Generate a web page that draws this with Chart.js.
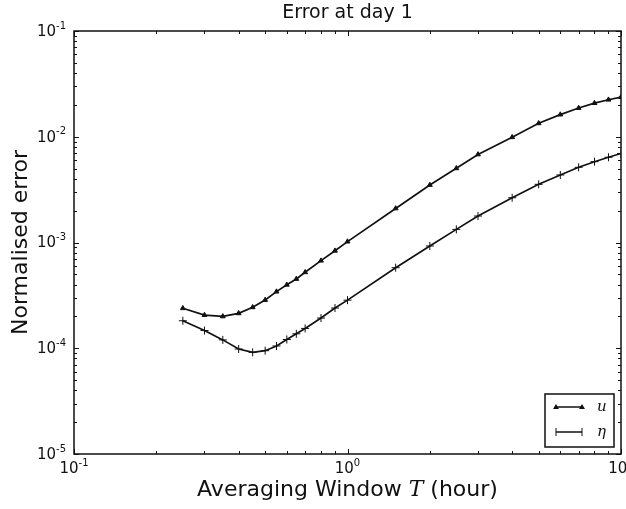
<!DOCTYPE html>
<html>
<head>
<meta charset="utf-8">
<script src="https://cdn.jsdelivr.net/npm/chart.js@4/dist/chart.umd.min.js"></script>
<style>
  html, body { margin: 0; padding: 0; background: #fff; }
  #wrap { width: 626px; height: 509px; }
</style>
</head>
<body>
<div id="wrap"><canvas id="errChart" width="626" height="509"></canvas></div>
<script>
// averaging window T (hours)
const windowHours = [0.25, 0.3, 0.35, 0.4, 0.45, 0.5, 0.55, 0.6, 0.65, 0.7, 0.8, 0.9, 1.0,
    1.5, 2, 2.5, 3, 4, 5, 6, 7, 8, 9, 10];
// normalised error of u
const errU = [2.39e-4, 2.06e-4, 2.00e-4, 2.14e-4, 2.44e-4, 2.86e-4, 3.43e-4, 3.98e-4, 4.52e-4,
    5.23e-4, 6.73e-4, 8.36e-4, 1.02e-3, 2.1e-3, 3.5e-3, 5.03e-3, 6.8e-3, 9.9e-3, 1.34e-2,
    1.62e-2, 1.87e-2, 2.08e-2, 2.24e-2, 2.37e-2];
// normalised error of eta
const errEta = [1.82e-4, 1.47e-4, 1.20e-4, 9.84e-5, 9.15e-5, 9.48e-5, 1.05e-4, 1.21e-4, 1.37e-4,
    1.54e-4, 1.93e-4, 2.40e-4, 2.85e-4, 5.78e-4, 9.27e-4, 1.33e-3, 1.78e-3, 2.65e-3, 3.55e-3,
    4.35e-3, 5.14e-3, 5.81e-3, 6.4e-3, 6.95e-3];
const seriesNames = ['u', 'η'];

const xMajor = [0.1, 1, 10];
const xMajorExp = ['-1', '0', '1'];
const yMajor = [1e-5, 1e-4, 1e-3, 1e-2, 1e-1];
const yMajorExp = ['-5', '-4', '-3', '-2', '-1'];

const INK = '#111';
const SANS = '"DejaVu Sans", sans-serif';

function toPoints(xs, ys) {
    return xs.map((x, i) => ({ x: x, y: ys[i] }));
}

// minor tick values between decades
function minorTicks(min, max) {
    const out = [];
    for (let d = min; d < max; d *= 10) {
        for (let k = 2; k <= 9; k++) out.push(d * k);
    }
    return out;
}

function drawPow(ctx, exp, x, y, align) {
    // "10" with a raised exponent
    ctx.font = '15px ' + SANS;
    const wBase = ctx.measureText('10').width;
    ctx.font = '10px ' + SANS;
    const wExp = ctx.measureText(exp).width;
    const total = wBase + wExp;
    let start = x;
    if (align === 'center') start = x - total / 2;
    if (align === 'right') start = x - total;
    ctx.textAlign = 'left';
    ctx.textBaseline = 'middle';
    ctx.font = '15px ' + SANS;
    ctx.fillText('10', start, y);
    ctx.font = '10px ' + SANS;
    ctx.fillText(exp, start + wBase, y - 6);
}

const decorPlugin = {
    id: 'decor',
    afterDraw(chart) {
        const ctx = chart.ctx;
        const a = chart.chartArea;
        const xs = chart.scales.x;
        const ys = chart.scales.y;
        ctx.save();
        ctx.strokeStyle = INK;
        ctx.fillStyle = INK;

        // ticks pointing inward on all four sides
        ctx.lineWidth = 1;
        const tick = (len, vals, scale, horiz) => {
            vals.forEach(v => {
                const p = Math.round(scale.getPixelForValue(v)) + 0.5;
                ctx.beginPath();
                if (horiz) {
                    ctx.moveTo(p, a.bottom); ctx.lineTo(p, a.bottom - len);
                    ctx.moveTo(p, a.top); ctx.lineTo(p, a.top + len);
                } else {
                    ctx.moveTo(a.left, p); ctx.lineTo(a.left + len, p);
                    ctx.moveTo(a.right, p); ctx.lineTo(a.right - len, p);
                }
                ctx.stroke();
            });
        };
        tick(3, minorTicks(0.1, 10), xs, true);
        tick(5, xMajor, xs, true);
        tick(3, minorTicks(1e-5, 1e-1), ys, false);
        tick(5, yMajor, ys, false);

        // frame
        ctx.lineWidth = 1.5;
        ctx.strokeRect(a.left, a.top, a.right - a.left, a.bottom - a.top);

        // tick labels
        xMajor.forEach((v, i) => drawPow(ctx, xMajorExp[i], xs.getPixelForValue(v), a.bottom + 15, 'center'));
        yMajor.forEach((v, i) => drawPow(ctx, yMajorExp[i], a.left - 8, ys.getPixelForValue(v) + 1, 'right'));

        // title
        const cx = (a.left + a.right) / 2;
        ctx.textAlign = 'center';
        ctx.textBaseline = 'middle';
        ctx.font = '19px ' + SANS;
        ctx.fillText('Error at day 1', cx, 13);

        // y axis title
        ctx.save();
        ctx.translate(21, (a.top + a.bottom) / 2);
        ctx.rotate(-Math.PI / 2);
        ctx.font = '22px ' + SANS;
        ctx.fillText('Normalised error', 0, 0);
        ctx.restore();

        // x axis title with italic T
        const parts = [
            { t: 'Averaging Window ', f: '22px ' + SANS },
            { t: 'T', f: 'italic 22px "DejaVu Serif", serif' },
            { t: ' (hour)', f: '22px ' + SANS }
        ];
        let tw = 0;
        parts.forEach(p => { ctx.font = p.f; p.w = ctx.measureText(p.t).width; tw += p.w; });
        let px = cx - tw / 2;
        ctx.textAlign = 'left';
        parts.forEach(p => { ctx.font = p.f; ctx.fillText(p.t, px, 490); px += p.w; });

        // legend box
        const lx = 545, ly = 394, lw = 69, lh = 53;
        ctx.fillStyle = '#fff';
        ctx.fillRect(lx, ly, lw, lh);
        ctx.lineWidth = 1.5;
        ctx.strokeRect(lx, ly, lw, lh);
        ctx.fillStyle = INK;
        const rows = [ly + 13, ly + 38];
        rows.forEach((ry, i) => {
            ctx.lineWidth = 1.5;
            ctx.beginPath();
            ctx.moveTo(556, ry); ctx.lineTo(582, ry);
            ctx.stroke();
            [556, 582].forEach(mx => {
                if (i === 0) {
                    ctx.beginPath();
                    ctx.moveTo(mx, ry - 3); ctx.lineTo(mx + 3, ry + 2); ctx.lineTo(mx - 3, ry + 2);
                    ctx.closePath();
                    ctx.fill();
                } else {
                    ctx.lineWidth = 1;
                    ctx.beginPath();
                    ctx.moveTo(mx, ry - 4); ctx.lineTo(mx, ry + 4);
                    ctx.stroke();
                }
            });
            ctx.font = 'italic 15px "DejaVu Serif", serif';
            ctx.textBaseline = 'middle';
            ctx.fillText(seriesNames[i], 597, ry);
        });
        ctx.restore();
    }
};

new Chart(document.getElementById('errChart'), {
    type: 'line',
    data: {
        datasets: [
            {
                label: seriesNames[0],
                data: toPoints(windowHours, errU),
                borderColor: INK,
                backgroundColor: INK,
                borderWidth: 1.7,
                pointStyle: 'triangle',
                pointRadius: 2.8,
                pointBorderWidth: 1,
                tension: 0
            },
            {
                label: seriesNames[1],
                data: toPoints(windowHours, errEta),
                borderColor: INK,
                backgroundColor: INK,
                borderWidth: 1.7,
                pointStyle: 'cross',
                pointRadius: 4,
                pointBorderWidth: 1,
                tension: 0
            }
        ]
    },
    options: {
        responsive: false,
        animation: false,
        layout: { padding: { left: 74, top: 31, right: 4, bottom: 55 } },
        plugins: {
            legend: { display: false },
            title: { display: false },
            tooltip: { enabled: false }
        },
        scales: {
            x: { type: 'logarithmic', min: 0.1, max: 10, display: false },
            y: { type: 'logarithmic', min: 1e-5, max: 1e-1, display: false }
        }
    },
    plugins: [decorPlugin]
});
</script>
</body>
</html>
